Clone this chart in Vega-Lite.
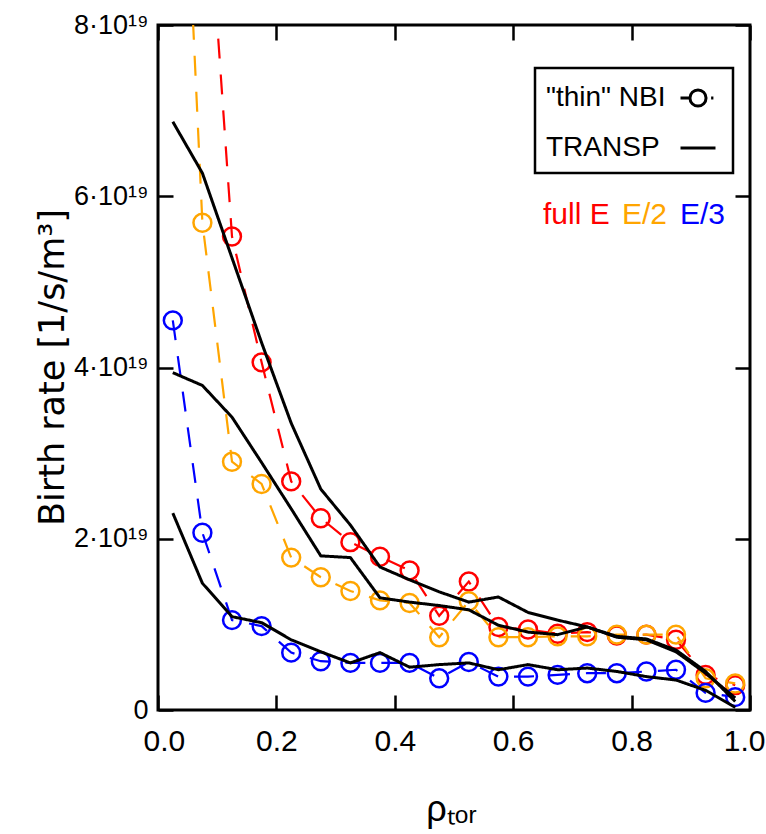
{
  "$schema": "https://vega.github.io/schema/vega-lite/v6.json",
  "width": 592,
  "height": 685,
  "autosize": "none",
  "padding": {"left": 158, "top": 25, "right": 16, "bottom": 124},
  "config": {
    "font": "Liberation Sans, sans-serif",
    "view": {"stroke": "black", "strokeWidth": 3},
    "axis": {"labelFontSize": 30, "labelColor": "black", "titleColor": "black", "titleFontWeight": "normal", "titleFontSize": 36, "ticks": false, "domain": false, "grid": true, "gridColor": "black", "gridOpacity": 1, "gridWidth": 2.5},
    "legend": {"labelFontSize": 28, "labelColor": "black"}
  },
  "datasets": {
    "nbi": [
      {"rho": 0.025, "beam": "full E", "rate": 1.2e20},
      {"rho": 0.075, "beam": "full E", "rate": 1.05e20},
      {"rho": 0.125, "beam": "full E", "rate": 5.53e19},
      {"rho": 0.175, "beam": "full E", "rate": 4.06e19},
      {"rho": 0.225, "beam": "full E", "rate": 2.67e19},
      {"rho": 0.275, "beam": "full E", "rate": 2.24e19},
      {"rho": 0.325, "beam": "full E", "rate": 1.96e19},
      {"rho": 0.375, "beam": "full E", "rate": 1.79e19},
      {"rho": 0.425, "beam": "full E", "rate": 1.63e19},
      {"rho": 0.475, "beam": "full E", "rate": 1.10e19},
      {"rho": 0.525, "beam": "full E", "rate": 1.50e19},
      {"rho": 0.575, "beam": "full E", "rate": 0.97e19},
      {"rho": 0.625, "beam": "full E", "rate": 0.94e19},
      {"rho": 0.675, "beam": "full E", "rate": 0.89e19},
      {"rho": 0.725, "beam": "full E", "rate": 0.91e19},
      {"rho": 0.775, "beam": "full E", "rate": 0.87e19},
      {"rho": 0.825, "beam": "full E", "rate": 0.88e19},
      {"rho": 0.875, "beam": "full E", "rate": 0.82e19},
      {"rho": 0.925, "beam": "full E", "rate": 0.41e19},
      {"rho": 0.975, "beam": "full E", "rate": 0.29e19},
      {"rho": 0.025, "beam": "E/2", "rate": 1.31e20},
      {"rho": 0.075, "beam": "E/2", "rate": 5.69e19},
      {"rho": 0.125, "beam": "E/2", "rate": 2.90e19},
      {"rho": 0.175, "beam": "E/2", "rate": 2.64e19},
      {"rho": 0.225, "beam": "E/2", "rate": 1.78e19},
      {"rho": 0.275, "beam": "E/2", "rate": 1.55e19},
      {"rho": 0.325, "beam": "E/2", "rate": 1.39e19},
      {"rho": 0.375, "beam": "E/2", "rate": 1.28e19},
      {"rho": 0.425, "beam": "E/2", "rate": 1.25e19},
      {"rho": 0.475, "beam": "E/2", "rate": 0.85e19},
      {"rho": 0.525, "beam": "E/2", "rate": 1.27e19},
      {"rho": 0.575, "beam": "E/2", "rate": 0.85e19},
      {"rho": 0.625, "beam": "E/2", "rate": 0.85e19},
      {"rho": 0.675, "beam": "E/2", "rate": 0.86e19},
      {"rho": 0.725, "beam": "E/2", "rate": 0.86e19},
      {"rho": 0.775, "beam": "E/2", "rate": 0.88e19},
      {"rho": 0.825, "beam": "E/2", "rate": 0.88e19},
      {"rho": 0.875, "beam": "E/2", "rate": 0.88e19},
      {"rho": 0.925, "beam": "E/2", "rate": 0.37e19},
      {"rho": 0.975, "beam": "E/2", "rate": 0.31e19},
      {"rho": 0.025, "beam": "E/3", "rate": 4.55e19},
      {"rho": 0.075, "beam": "E/3", "rate": 2.07e19},
      {"rho": 0.125, "beam": "E/3", "rate": 1.05e19},
      {"rho": 0.175, "beam": "E/3", "rate": 0.98e19},
      {"rho": 0.225, "beam": "E/3", "rate": 0.67e19},
      {"rho": 0.275, "beam": "E/3", "rate": 0.57e19},
      {"rho": 0.325, "beam": "E/3", "rate": 0.55e19},
      {"rho": 0.375, "beam": "E/3", "rate": 0.55e19},
      {"rho": 0.425, "beam": "E/3", "rate": 0.55e19},
      {"rho": 0.475, "beam": "E/3", "rate": 0.37e19},
      {"rho": 0.525, "beam": "E/3", "rate": 0.56e19},
      {"rho": 0.575, "beam": "E/3", "rate": 0.39e19},
      {"rho": 0.625, "beam": "E/3", "rate": 0.39e19},
      {"rho": 0.675, "beam": "E/3", "rate": 0.41e19},
      {"rho": 0.725, "beam": "E/3", "rate": 0.43e19},
      {"rho": 0.775, "beam": "E/3", "rate": 0.43e19},
      {"rho": 0.825, "beam": "E/3", "rate": 0.45e19},
      {"rho": 0.875, "beam": "E/3", "rate": 0.47e19},
      {"rho": 0.925, "beam": "E/3", "rate": 0.20e19},
      {"rho": 0.975, "beam": "E/3", "rate": 0.15e19}
    ],
    "transp": [
      {"rho": 0.025, "beam": "full E", "rate": 6.87e19},
      {"rho": 0.075, "beam": "full E", "rate": 6.27e19},
      {"rho": 0.125, "beam": "full E", "rate": 5.28e19},
      {"rho": 0.175, "beam": "full E", "rate": 4.29e19},
      {"rho": 0.225, "beam": "full E", "rate": 3.35e19},
      {"rho": 0.275, "beam": "full E", "rate": 2.58e19},
      {"rho": 0.325, "beam": "full E", "rate": 2.16e19},
      {"rho": 0.375, "beam": "full E", "rate": 1.67e19},
      {"rho": 0.425, "beam": "full E", "rate": 1.52e19},
      {"rho": 0.475, "beam": "full E", "rate": 1.38e19},
      {"rho": 0.525, "beam": "full E", "rate": 1.26e19},
      {"rho": 0.575, "beam": "full E", "rate": 1.32e19},
      {"rho": 0.625, "beam": "full E", "rate": 1.14e19},
      {"rho": 0.675, "beam": "full E", "rate": 1.05e19},
      {"rho": 0.725, "beam": "full E", "rate": 0.97e19},
      {"rho": 0.775, "beam": "full E", "rate": 0.85e19},
      {"rho": 0.825, "beam": "full E", "rate": 0.82e19},
      {"rho": 0.875, "beam": "full E", "rate": 0.68e19},
      {"rho": 0.925, "beam": "full E", "rate": 0.43e19},
      {"rho": 0.975, "beam": "full E", "rate": 0.14e19},
      {"rho": 0.025, "beam": "E/2", "rate": 3.94e19},
      {"rho": 0.075, "beam": "E/2", "rate": 3.79e19},
      {"rho": 0.125, "beam": "E/2", "rate": 3.42e19},
      {"rho": 0.175, "beam": "E/2", "rate": 2.89e19},
      {"rho": 0.225, "beam": "E/2", "rate": 2.35e19},
      {"rho": 0.275, "beam": "E/2", "rate": 1.80e19},
      {"rho": 0.325, "beam": "E/2", "rate": 1.78e19},
      {"rho": 0.375, "beam": "E/2", "rate": 1.31e19},
      {"rho": 0.425, "beam": "E/2", "rate": 1.26e19},
      {"rho": 0.475, "beam": "E/2", "rate": 1.22e19},
      {"rho": 0.525, "beam": "E/2", "rate": 1.17e19},
      {"rho": 0.575, "beam": "E/2", "rate": 0.99e19},
      {"rho": 0.625, "beam": "E/2", "rate": 0.91e19},
      {"rho": 0.675, "beam": "E/2", "rate": 0.88e19},
      {"rho": 0.725, "beam": "E/2", "rate": 0.97e19},
      {"rho": 0.775, "beam": "E/2", "rate": 0.86e19},
      {"rho": 0.825, "beam": "E/2", "rate": 0.83e19},
      {"rho": 0.875, "beam": "E/2", "rate": 0.70e19},
      {"rho": 0.925, "beam": "E/2", "rate": 0.45e19},
      {"rho": 0.975, "beam": "E/2", "rate": 0.10e19},
      {"rho": 0.025, "beam": "E/3", "rate": 2.30e19},
      {"rho": 0.075, "beam": "E/3", "rate": 1.48e19},
      {"rho": 0.125, "beam": "E/3", "rate": 1.09e19},
      {"rho": 0.175, "beam": "E/3", "rate": 1.02e19},
      {"rho": 0.225, "beam": "E/3", "rate": 0.82e19},
      {"rho": 0.275, "beam": "E/3", "rate": 0.68e19},
      {"rho": 0.325, "beam": "E/3", "rate": 0.55e19},
      {"rho": 0.375, "beam": "E/3", "rate": 0.67e19},
      {"rho": 0.425, "beam": "E/3", "rate": 0.50e19},
      {"rho": 0.475, "beam": "E/3", "rate": 0.53e19},
      {"rho": 0.525, "beam": "E/3", "rate": 0.55e19},
      {"rho": 0.575, "beam": "E/3", "rate": 0.47e19},
      {"rho": 0.625, "beam": "E/3", "rate": 0.53e19},
      {"rho": 0.675, "beam": "E/3", "rate": 0.47e19},
      {"rho": 0.725, "beam": "E/3", "rate": 0.49e19},
      {"rho": 0.775, "beam": "E/3", "rate": 0.45e19},
      {"rho": 0.825, "beam": "E/3", "rate": 0.39e19},
      {"rho": 0.875, "beam": "E/3", "rate": 0.35e19},
      {"rho": 0.925, "beam": "E/3", "rate": 0.23e19},
      {"rho": 0.975, "beam": "E/3", "rate": 0.03e19}
    ]
  },
  "layer": [
    {
      "data": {"name": "nbi"},
      "transform": [{"calculate": "'\"thin\" NBI'", "as": "model"}],
      "mark": {"type": "line", "clip": true, "strokeWidth": 2.2},
      "encoding": {
        "x": {"field": "rho", "type": "quantitative", "scale": {"domain": [0, 1], "nice": false},
          "axis": {"orient": "bottom", "values": [0, 0.2, 0.4, 0.6, 0.8, 1.0], "format": ".1f",
            "gridDash": [15, 655, 15], "labelPadding": 16, "labelFlush": true, "labelFlushOffset": 15, "labelOverlap": false,
            "title": "ρₜₒᵣ", "titleX": 293, "titleY": 110, "titleBaseline": "alphabetic"}},
        "y": {"field": "rate", "type": "quantitative", "scale": {"domain": [0, 8e19], "nice": false},
          "axis": {"orient": "left", "values": [0, 2e19, 4e19, 6e19, 8e19],
            "labelExpr": "datum.value == 0 ? '0' : format(datum.value / 1e19, 'd') + '·10¹⁹'",
            "gridDash": [15, 562, 15], "labelPadding": 10, "labelFontSize": 27, "labelFlush": false, "labelOverlap": false,
            "title": "Birth rate [1/s/m³]", "titleFont": "DejaVu Sans, sans-serif", "titleFontSize": 35, "titleX": -95, "titleY": 342, "titleBaseline": "alphabetic"}},
        "color": {"field": "beam", "type": "nominal", "scale": {"domain": ["full E", "E/2", "E/3"], "range": ["#ff0000", "#ffa500", "#0000ff"]},
          "legend": {"orient": "none", "legendX": 385, "legendY": 175, "direction": "horizontal", "title": null, "symbolSize": 0, "symbolStrokeWidth": 0, "symbolOpacity": 0, "labelOffset": 0, "columnPadding": 12, "padding": 0, "labelFontSize": 30,
            "encode": {"labels": {"update": {"x": {"value": 0}, "fill": {"signal": "scale('color', datum.value)"}}}, "symbols": {"update": {"x": {"value": 0}, "size": {"value": 0}}}}}},
        "strokeDash": {"field": "model", "type": "nominal", "scale": {"domain": ["\"thin\" NBI", "TRANSP"], "range": [[20, 16], [1, 0]]},
          "legend": {"orient": "none", "legendX": 377, "legendY": 43, "title": null, "strokeColor": "black", "padding": 11, "rowPadding": 16, "symbolSize": 1225,
            "encode": {
              "legend": {"update": {"strokeWidth": {"value": 2.5}}},
              "labels": {"update": {"x": {"value": 0}}},
              "symbols": {"update": {"x": {"value": 152}, "shape": {"signal": "datum.value === 'TRANSP' ? 'M-1,0H1' : 'M-1,0H-0.46M0.46,0C0.46,0.254 0.254,0.46 0,0.46M0,0.46C-0.254,0.46 -0.46,0.254 -0.46,0M-0.46,0C-0.46,-0.254 -0.254,-0.46 0,-0.46M0,-0.46C0.254,-0.46 0.46,-0.254 0.46,0M0.75,0H0.88'"}, "stroke": {"value": "black"}, "fill": {"value": "transparent"}, "strokeWidth": {"value": 3}}}
            }}}
      }
    },
    {
      "data": {"name": "nbi"},
      "mark": {"type": "point", "shape": "circle", "filled": false, "clip": true, "size": 320, "strokeWidth": 2.5, "opacity": 1},
      "encoding": {
        "x": {"field": "rho", "type": "quantitative", "axis": null},
        "y": {"field": "rate", "type": "quantitative", "axis": null},
        "color": {"field": "beam", "type": "nominal"}
      }
    },
    {
      "data": {"name": "transp"},
      "transform": [{"calculate": "'TRANSP'", "as": "model"}],
      "mark": {"type": "line", "clip": true, "strokeWidth": 3, "color": "black"},
      "encoding": {
        "x": {"field": "rho", "type": "quantitative",
          "axis": {"orient": "bottom", "values": [0, 0.05, 0.1, 0.15, 0.2, 0.25, 0.3, 0.35, 0.4, 0.45, 0.5, 0.55, 0.6, 0.65, 0.7, 0.75, 0.8, 0.85, 0.9, 0.95, 1.0], "labels": false, "title": null, "gridDash": [8, 669, 8]}},
        "y": {"field": "rate", "type": "quantitative",
          "axis": {"orient": "left", "values": [0, 5e18, 1e19, 1.5e19, 2e19, 2.5e19, 3e19, 3.5e19, 4e19, 4.5e19, 5e19, 5.5e19, 6e19, 6.5e19, 7e19, 7.5e19, 8e19], "labels": false, "title": null, "gridDash": [8, 576, 8]}},
        "detail": {"field": "beam", "type": "nominal"},
        "strokeDash": {"field": "model", "type": "nominal"}
      }
    }
  ],
  "resolve": {"axis": {"x": "independent", "y": "independent"}}
}
